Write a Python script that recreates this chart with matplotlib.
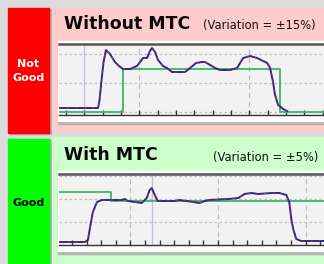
import matplotlib
matplotlib.use("Agg")
import matplotlib.pyplot as plt
from matplotlib.patches import Rectangle

# figure size in pixels
W, H = 324, 264

# top chart: without MTC (time in ticks, level in px-like units)
top_pv_t = [-0.38, 1.75, 1.83, 1.94, 2.05, 2.18, 2.40, 2.67, 2.89, 3.11, 3.49, 3.87,
            4.09, 4.20, 4.42, 4.58, 4.69, 4.86, 5.02, 5.29, 5.51, 5.78, 6.49, 6.77,
            7.09, 7.42, 7.58, 7.86, 8.13, 8.40, 8.95, 9.33, 9.66, 10.04, 10.42, 10.75,
            10.97, 11.13, 11.29, 11.40, 11.57, 11.84, 12.06]
top_pv_v = [7, 7, 15, 35, 53, 65, 61, 53, 49, 46, 46, 49,
            54, 57, 57, 64, 67, 63, 55, 49, 47, 43, 43, 47,
            52, 53, 53, 50, 47, 45, 45, 47, 57, 59, 57, 54,
            52, 47, 33, 20, 10, 6, 4]
top_sp_t = [-0.38, 3.11, 3.11, 11.67, 11.67, 14.1]
top_sp_v = [3, 3, 46, 46, 3, 3]

# bottom chart: with MTC
bot_pv_t = [-0.89, 0.89, 1.09, 1.23, 1.43, 1.71, 2.05, 3.41, 3.62, 3.82, 4.78, 5.12,
            5.32, 5.46, 5.67, 5.87, 7.03, 7.37, 7.85, 8.74, 9.08, 9.35, 10.72, 11.40,
            11.81, 12.29, 12.76, 13.65, 14.20, 14.68, 14.88, 15.02, 15.15, 15.36, 15.70, 17.3]
bot_pv_v = [3, 3, 5, 17, 33, 43, 45, 45, 46, 44, 42, 47,
            55, 57, 50, 44, 44, 45, 44, 42, 44, 45, 46, 47,
            51, 52, 51, 52, 52, 50, 43, 26, 16, 6, 4, 4]
bot_sp_t = [-0.89, 2.66, 2.66, 17.3]
bot_sp_v = [53, 53, 44, 44]

panels = [
    dict(title="Without MTC", note="(Variation = \u00b115%)", label="Not\nGood",
         label_color="white", label_weight="bold", box="#ff0000", bg="#ffcccc",
         pv_t=top_pv_t, pv_v=top_pv_v, sp_t=top_sp_t, sp_v=top_sp_v,
         xlim=(-0.38, 14.07), ticks=range(0, 15), grid_y=[3, 32, 61],
         vdash=[4, 10], vsolid=[1],
         box_px=(8, 8, 49, 133), bg_px=(52, 8, 324, 131), ax_px=(59, 44, 324, 115),
         title_y=24, note_x=203, note_y=26, label_y=71),
    dict(title="With MTC", note="(Variation = \u00b15%)", label="Good",
         label_color="black", label_weight="semibold", box="#00ff00", bg="#ccffcc",
         pv_t=bot_pv_t, pv_v=bot_pv_v, sp_t=bot_sp_t, sp_v=bot_sp_v,
         xlim=(-0.89, 17.26), ticks=range(0, 18), grid_y=[23, 46, 69],
         vdash=[4, 10, 16], vsolid=[5.46],
         box_px=(8, 139, 49, 264), bg_px=(52, 137, 324, 264), ax_px=(59, 174, 324, 245),
         title_y=155, note_x=213, note_y=158, label_y=203),
]


def fr(x0, y0, x1, y1):
    # pixel box (top-down) -> figure fraction [l, b, w, h]
    return [x0 / W, 1 - y1 / H, (x1 - x0) / W, (y1 - y0) / H]


def add_rect(x0, y0, x1, y1, color):
    l, b, w, h = fr(x0, y0, x1, y1)
    fig.patches.append(Rectangle((l, b), w, h, transform=fig.transFigure,
                                 color=color, zorder=-5))


fig = plt.figure(figsize=(W / 100, H / 100), dpi=100)
fig.patch.set_facecolor("#dcdcdc")

for p in panels:
    bx0, by0, bx1, by1 = p["box_px"]
    add_rect(bx0 + 2, by0 + 1, bx1 + 2, by1 + 1, "#a8a8a8")
    add_rect(bx0, by0, bx1, by1, p["box"])
    add_rect(*p["bg_px"], p["bg"])
    ax0, ay0, ax1, ay1 = p["ax_px"]
    # white frame with drop shadow behind the plot
    add_rect(ax0 - 1, ay0 - 1, ax1, ay1 + 9, "#b4b4b4")
    add_rect(ax0 - 1, ay0 - 3, ax1, ay1 + 6, "white")

    fig.text((bx0 + bx1) / 2 / W, 1 - p["label_y"] / H, p["label"], color=p["label_color"],
             ha="center", va="center", fontsize=8, fontweight=p["label_weight"],
             linespacing=1.45)
    fig.text(64 / W, 1 - p["title_y"] / H, p["title"], ha="left", va="center",
             fontsize=12.5, fontweight="bold", color="#0a0a0a")
    fig.text(p["note_x"] / W, 1 - p["note_y"] / H, p["note"], ha="left", va="center",
             fontsize=8.3, color="#111111")

    ax = fig.add_axes(fr(*p["ax_px"]))
    ax.set_zorder(5)
    ax.set_facecolor("#f2f2f2")
    ax.set_xlim(*p["xlim"])
    ax.set_ylim(0, 71)
    for y in p["grid_y"]:
        ax.axhline(y, color="#bdbdbd", lw=0.9, ls=(0, (2, 2)), zorder=1)
    for x in p["vdash"]:
        ax.axvline(x, color="#bdbdbd", lw=0.9, ls=(0, (4, 3)), zorder=1)
    for x in p["vsolid"]:
        ax.axvline(x, color="#c0c0dc", lw=0.9, zorder=1)

    ax.plot(p["sp_t"], p["sp_v"], color="#3cb46e", lw=1.3, zorder=3)
    ax.plot(p["pv_t"], p["pv_v"], color="#2a2a8c", lw=1.4, zorder=4,
            solid_joinstyle="round")
    ax.plot(p["pv_t"], p["pv_v"], color="#e02020", lw=0.7, ls=(0, (2.5, 6)), zorder=5)

    ax.set_xticks(list(p["ticks"]))
    ax.set_yticks([])
    ax.tick_params(axis="x", direction="in", length=3.5, width=1, color="#333333",
                   labelbottom=False)
    for s in ["left", "right"]:
        ax.spines[s].set_visible(False)
    ax.spines["top"].set_color("#555555")
    ax.spines["top"].set_linewidth(1.8)
    ax.spines["bottom"].set_color("#333333")
    ax.spines["bottom"].set_linewidth(1.0)

fig.savefig("out.png", dpi=100, facecolor=fig.get_facecolor())
